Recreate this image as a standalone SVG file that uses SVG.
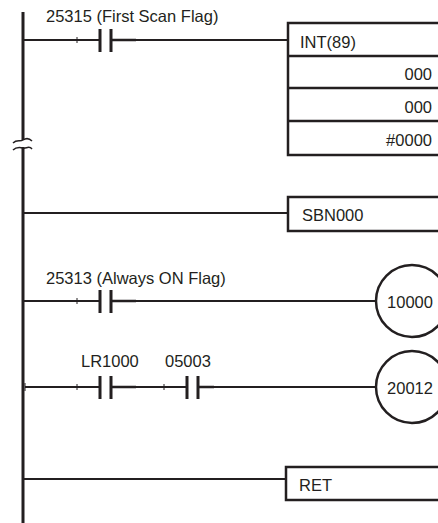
<svg xmlns="http://www.w3.org/2000/svg" width="438" height="523" viewBox="0 0 438 523">
<style>
.w{stroke:#231f20;stroke-width:2;fill:none}
.rail{stroke:#231f20;stroke-width:3;fill:none}
.plate{stroke:#231f20;stroke-width:3}
.tick{stroke:#231f20;stroke-width:1}
.box{stroke:#231f20;stroke-width:2.5;fill:#fff}
text{font-family:"Liberation Sans",Arial,sans-serif;font-size:16.5px;fill:#231f20}
.r{text-anchor:end}
.m{text-anchor:middle}
</style>
<rect width="438" height="523" fill="#fff"/>
<g id="rail">
<path class="rail" d="M23,12 V140 M23,147 V523"/>
<path class="w" style="stroke-width:1.5" d="M13,143 C17,139 20,142 23,140 C26,138 29,138 32,141"/>
<path class="w" style="stroke-width:1.5" d="M13,150 C16,147 19,147 23,148 C26,149 29,145 32,149"/>
</g>
<g id="connectors">
<path class="w" d="M23,40 H100 M111,40 H288"/>
<path class="w" d="M23,213 H288"/>
<path class="w" d="M23,301 H100 M111,301 H376"/>
<path class="w" d="M25,387 H100 M111,387 H187 M198,387 H376"/>
<path class="w" d="M23,479 H286"/>
<path class="w" style="stroke-width:2.6" d="M111,40 H136 M111,301 H136 M111,387 H136 M198,387 H214"/>
<path class="tick" d="M77,37 V43 M77,298 V304 M25,383 V391 M77,384 V390 M164,384 V390"/>
</g>
<g id="contact1">
<text x="46" y="22">25315 (First Scan Flag)</text>
<path class="plate" d="M100,29 V52 M111,29 V52"/>
</g>
<g id="int89">
<rect class="box" x="288" y="23" width="160" height="132"/>
<path class="w" style="stroke-width:2.5" d="M288,56 H440 M288,88 H440 M288,121 H440"/>
<text x="300" y="48">INT(89)</text>
<text class="r" x="432" y="80">000</text>
<text class="r" x="432" y="113">000</text>
<text class="r" x="432" y="146">#0000</text>
</g>
<g id="sbn000">
<rect class="box" x="288" y="197" width="160" height="34"/>
<text x="302" y="221">SBN000</text>
</g>
<g id="contact2">
<text x="46" y="284">25313 (Always ON Flag)</text>
<path class="plate" d="M100,290 V313 M111,290 V313"/>
</g>
<g id="coil10000">
<circle class="box" cx="412" cy="301" r="36"/>
<text class="m" x="410" y="308">10000</text>
</g>
<g id="contactLR1000">
<text x="81" y="367">LR1000</text>
<path class="plate" d="M100,376 V399 M111,376 V399"/>
</g>
<g id="contact05003">
<text x="165" y="367">05003</text>
<path class="plate" d="M187,376 V399 M198,376 V399"/>
</g>
<g id="coil20012">
<circle class="box" cx="412" cy="387" r="36"/>
<text class="m" x="410" y="394">20012</text>
</g>
<g id="ret">
<rect class="box" x="286" y="467" width="160" height="33"/>
<text x="299" y="491">RET</text>
</g>
</svg>
